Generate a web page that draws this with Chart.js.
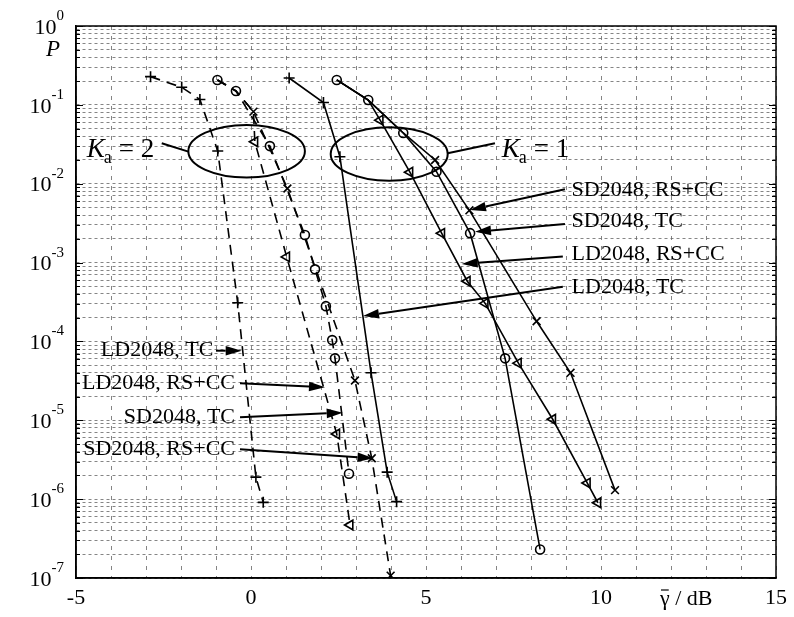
<!DOCTYPE html>
<html>
<head>
<meta charset="utf-8">
<script src="https://cdn.jsdelivr.net/npm/chart.js@4.4.1/dist/chart.umd.min.js"></script>
<style>
  html, body { margin: 0; padding: 0; background: #fff; }
  #wrap { width: 794px; height: 617px; }
</style>
</head>
<body>
<div id="wrap"><canvas id="chart" width="794" height="617"></canvas></div>
<script>
// x: gamma in dB, P: probability
// Ka = 1, solid lines
const k1LdTcX = [1.09, 2.07, 2.54, 3.43, 3.89, 4.16];
const k1LdTcP = [0.219, 0.107, 0.022, 4.0e-5, 2.2e-6, 9.3e-7];
const k1SdTcX = [2.45, 3.35, 4.35, 5.30, 6.26, 7.26, 8.26];
const k1SdTcP = [0.207, 0.115, 0.044, 0.0142, 2.36e-3, 6.1e-5, 2.3e-7];
const k1SdRsX = [2.45, 3.35, 4.35, 5.26, 6.24, 8.16, 9.13, 10.4];
const k1SdRsP = [0.207, 0.115, 0.044, 0.020, 4.6e-3, 1.8e-4, 4.0e-5, 1.3e-6];
const k1LdRsX = [2.45, 3.35, 3.69, 4.54, 5.45, 6.18, 6.69, 7.64, 8.62, 9.61, 9.91];
const k1LdRsP = [0.207, 0.115, 0.064, 0.014, 2.35e-3, 5.8e-4, 3.04e-4, 5.3e-5, 1.03e-5, 1.6e-6, 9.0e-7];
// Ka = 2, dashed lines
const k2LdTcX = [-2.87, -1.98, -1.46, -0.95, -0.38, 0.14, 0.35];
const k2LdTcP = [0.228, 0.167, 0.117, 0.026, 3.1e-4, 1.9e-6, 9.1e-7];
const k2SdTcX = [-0.96, -0.43, 0.54, 1.54, 1.83, 2.14, 2.32, 2.40, 2.80];
const k2SdTcP = [0.207, 0.150, 0.030, 2.24e-3, 8.2e-4, 2.8e-4, 1.04e-4, 6.1e-5, 2.1e-6];
const k2SdRsX = [-0.96, -0.43, 0.07, 1.04, 2.97, 3.45, 3.99];
const k2SdRsP = [0.207, 0.150, 0.082, 8.7e-3, 3.2e-5, 3.3e-6, 1.07e-7];
const k2LdRsX = [-0.96, -0.43, 0.07, 0.11, 1.02, 2.45, 2.83];
const k2LdRsP = [0.207, 0.150, 0.082, 0.034, 1.18e-3, 6.7e-6, 4.7e-7];

const xTickLabels = [-5, 0, 5, 10, 15];
const yExponents = [0, -1, -2, -3, -4, -5, -6, -7];
const rightLabels = ['SD2048, RS+CC', 'SD2048, TC', 'LD2048, RS+CC', 'LD2048, TC'];
const leftLabels = ['LD2048, TC', 'LD2048, RS+CC', 'SD2048, TC', 'SD2048, RS+CC'];

// annotation placement (data coordinates)
const rightText = { x: 9.16, p: [8.32e-3, 3.30e-3, 1.28e-3, 4.94e-4] };
const rightArrows = [
  [8.97, 8.5e-3, 6.257, 4.64e-3],
  [8.97, 3.08e-3, 6.40, 2.46e-3],
  [8.91, 1.19e-3, 6.02, 9.6e-4],
  [8.91, 4.94e-4, 3.20, 2.1e-4]
];
const leftText = { x: [-1.077, -0.457, -0.457, -0.457], p: [7.63e-5, 2.94e-5, 1.09e-5, 4.29e-6] };
const leftArrows = [
  [-1.0, 7.63e-5, -0.266, 7.63e-5],
  [-0.314, 2.94e-5, 2.114, 2.62e-5],
  [-0.314, 1.09e-5, 2.62, 1.25e-5],
  [-0.314, 4.29e-6, 3.50, 3.30e-6]
];
const groups = [
  { label: '2', kx: -4.694, kp: 0.0220, line: [-2.55, 0.0326, -1.79, 0.0255], ell: [-1.79, 1.54, 0.0120, 0.0555] },
  { label: '1', kx: 7.163, kp: 0.0220, line: [5.62, 0.0243, 6.97, 0.0326], ell: [2.277, 5.62, 0.0109, 0.0519] }
];

const serif = '"Liberation Serif", "Times New Roman", serif';

function toPoints(xs, ps) {
  return xs.map((x, i) => ({ x: x, y: ps[i] }));
}

function series(xs, ps, marker, dashed, hideFirst) {
  const radius = marker === 'circle' ? 4.5 : 5.5;
  return {
    data: toPoints(xs, ps),
    showLine: true,
    borderColor: '#000',
    borderWidth: 1.6,
    borderDash: dashed ? [10, 7] : [],
    tension: 0,
    pointStyle: marker,
    rotation: marker === 'triangle' ? -90 : 0,
    pointRadius: ctx => ctx.dataIndex < hideFirst ? 0 : radius,
    pointBorderColor: '#000',
    pointBackgroundColor: 'rgba(0,0,0,0)',
    pointBorderWidth: 1.6
  };
}

const yGridVals = [];
for (let e = -7; e < 0; e++) {
  for (let m = 1; m <= 9; m++) yGridVals.push(m * Math.pow(10, e));
}
yGridVals.push(1);

function arrow(ctx, x1, y1, x2, y2) {
  const ang = Math.atan2(y2 - y1, x2 - x1);
  const len = 16, hw = 4.8;
  const bx = x2 - len * Math.cos(ang), by = y2 - len * Math.sin(ang);
  ctx.beginPath();
  ctx.moveTo(x1, y1);
  ctx.lineTo(bx, by);
  ctx.stroke();
  ctx.beginPath();
  ctx.moveTo(x2, y2);
  ctx.lineTo(bx + hw * Math.sin(ang), by - hw * Math.cos(ang));
  ctx.lineTo(bx - hw * Math.sin(ang), by + hw * Math.cos(ang));
  ctx.closePath();
  ctx.fill();
}

const annot = {
  id: 'annot',
  afterDraw(chart) {
    const { ctx, chartArea: a } = chart;
    const xs = chart.scales.x, ys = chart.scales.y;
    const X = v => xs.getPixelForValue(v);
    const Y = v => ys.getPixelForValue(v);
    ctx.save();
    ctx.fillStyle = '#000';
    ctx.strokeStyle = '#000';
    ctx.setLineDash([]);

    // frame
    ctx.lineWidth = 1.5;
    ctx.strokeRect(a.left, a.top, a.right - a.left, a.bottom - a.top);

    // y tick marks, both sides
    ctx.lineWidth = 1;
    yGridVals.forEach(v => {
      const yy = Math.round(Y(v)) + 0.5;
      const major = Math.abs(Math.log10(v) - Math.round(Math.log10(v))) < 1e-9;
      const len = major ? 7 : 4;
      ctx.beginPath();
      ctx.moveTo(a.left, yy); ctx.lineTo(a.left + len, yy);
      ctx.moveTo(a.right, yy); ctx.lineTo(a.right - len, yy);
      ctx.stroke();
    });

    // y tick labels 10^e
    yExponents.forEach(e => {
      const yy = Y(Math.pow(10, e));
      const exp = String(e);
      ctx.font = '15px ' + serif;
      const ew = ctx.measureText(exp).width;
      const right = 64;
      ctx.textAlign = 'left';
      ctx.textBaseline = 'middle';
      ctx.fillText(exp, right - ew, yy - 10);
      ctx.font = '22px ' + serif;
      ctx.textAlign = 'right';
      ctx.fillText('10', right - ew, yy + 2);
    });

    // x tick labels
    ctx.font = '22px ' + serif;
    ctx.textAlign = 'center';
    ctx.textBaseline = 'middle';
    xTickLabels.forEach(v => ctx.fillText(String(v), X(v), a.bottom + 20));

    // x axis title: gamma-bar / dB
    ctx.textAlign = 'left';
    ctx.textBaseline = 'alphabetic';
    const tx = X(11.686), tb = a.bottom + 27;
    ctx.fillText('\u03b3 / dB', tx, tb);
    const gw = ctx.measureText('\u03b3').width;
    ctx.lineWidth = 1.2;
    ctx.beginPath();
    ctx.moveTo(tx + 1, tb - 15); ctx.lineTo(tx + gw - 1, tb - 15);
    ctx.stroke();

    // y axis title
    ctx.font = 'italic 23px ' + serif;
    ctx.textAlign = 'center';
    ctx.textBaseline = 'middle';
    ctx.fillText('P', 53, 50);

    // ellipses and Ka labels
    groups.forEach(g => {
      const x0 = X(g.ell[0]), x1 = X(g.ell[1]);
      const y0 = Y(g.ell[3]), y1 = Y(g.ell[2]);
      ctx.lineWidth = 2;
      ctx.beginPath();
      ctx.ellipse((x0 + x1) / 2, (y0 + y1) / 2, (x1 - x0) / 2, (y1 - y0) / 2, 0, 0, Math.PI * 2);
      ctx.stroke();
      ctx.beginPath();
      ctx.moveTo(X(g.line[0]), Y(g.line[1]));
      ctx.lineTo(X(g.line[2]), Y(g.line[3]));
      ctx.stroke();
      const kx = X(g.kx), kb = Y(g.kp);
      ctx.textAlign = 'left';
      ctx.textBaseline = 'alphabetic';
      ctx.font = 'italic 27px ' + serif;
      ctx.fillText('K', kx, kb);
      const kw = ctx.measureText('K').width;
      ctx.font = '18px ' + serif;
      ctx.fillText('a', kx + kw - 1, kb + 6);
      const aw = ctx.measureText('a').width;
      ctx.font = '27px ' + serif;
      ctx.fillText('= ' + g.label, kx + kw + aw + 6, kb);
    });

    // right labels with arrows
    ctx.font = '22px ' + serif;
    ctx.textBaseline = 'middle';
    ctx.textAlign = 'left';
    ctx.lineWidth = 2;
    rightLabels.forEach((t, i) => {
      ctx.fillText(t, X(rightText.x), Y(rightText.p[i]));
      const r = rightArrows[i];
      arrow(ctx, X(r[0]), Y(r[1]), X(r[2]), Y(r[3]));
    });

    // left labels with arrows
    ctx.textAlign = 'right';
    leftLabels.forEach((t, i) => {
      ctx.fillText(t, X(leftText.x[i]), Y(leftText.p[i]));
      const r = leftArrows[i];
      arrow(ctx, X(r[0]), Y(r[1]), X(r[2]), Y(r[3]));
    });

    ctx.restore();
  }
};

new Chart(document.getElementById('chart').getContext('2d'), {
  type: 'scatter',
  data: {
    datasets: [
      series(k1LdTcX, k1LdTcP, 'cross', false, 0),
      series(k1SdTcX, k1SdTcP, 'circle', false, 0),
      series(k1SdRsX, k1SdRsP, 'crossRot', false, 3),
      series(k1LdRsX, k1LdRsP, 'triangle', false, 2),
      series(k2LdTcX, k2LdTcP, 'cross', true, 0),
      series(k2SdTcX, k2SdTcP, 'circle', true, 0),
      series(k2SdRsX, k2SdRsP, 'crossRot', true, 2),
      series(k2LdRsX, k2LdRsP, 'triangle', true, 3)
    ]
  },
  options: {
    responsive: false,
    animation: false,
    layout: { padding: { left: 76, right: 18, top: 26, bottom: 39 } },
    plugins: { legend: { display: false }, tooltip: { enabled: false } },
    scales: {
      x: {
        type: 'linear', min: -5, max: 15,
        ticks: { display: false, stepSize: 1 },
        grid: { color: '#666', lineWidth: 0.8, drawTicks: false },
        border: { display: true, color: '#000', width: 1.5, dash: [4, 6] }
      },
      y: {
        type: 'logarithmic', min: 1e-7, max: 1,
        afterBuildTicks: scale => { scale.ticks = yGridVals.map(v => ({ value: v })); },
        ticks: { display: false },
        grid: { color: '#666', lineWidth: 0.8, drawTicks: false },
        border: { display: true, color: '#000', width: 1.5, dash: [3, 3] }
      }
    }
  },
  plugins: [annot]
});
</script>
</body>
</html>
